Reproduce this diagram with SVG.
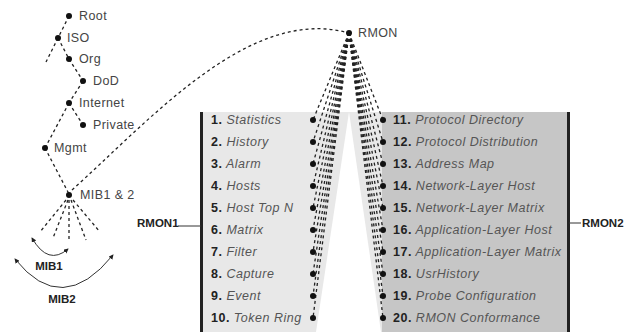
<svg xmlns="http://www.w3.org/2000/svg" width="629" height="332" viewBox="0 0 629 332">
<defs>
<style>
.t{font-family:"Liberation Sans",Arial,sans-serif;font-size:12.5px;fill:#444;letter-spacing:0.4px}
.b{font-family:"Liberation Sans",Arial,sans-serif;font-size:11.5px;font-weight:bold;fill:#222}
.it{font-family:"Liberation Sans",Arial,sans-serif;font-size:12.5px;font-style:italic;fill:#555;letter-spacing:0.5px}
.n{font-weight:bold;font-style:normal;fill:#222}
.d{fill:none;stroke:#222;stroke-width:1.3;stroke-dasharray:3 3}
.s{fill:none;stroke:#333;stroke-width:1}
.dot{fill:#111}
</style>
<marker id="ah" viewBox="0 0 6 6" refX="5" refY="3" markerWidth="5" markerHeight="5" orient="auto-start-reverse">
<path d="M0,0 L6,3 L0,6 Z" fill="#222"/>
</marker>
</defs>
<rect width="629" height="332" fill="#fff"/>
<g id="boxes">
<rect x="202" y="112" width="180" height="220" fill="#e8e8e8"/>
<rect x="382" y="112" width="186" height="220" fill="#c6c6c6"/>
<polygon points="349,112 316,332 381,332" fill="#fff"/>
<rect x="200" y="112" width="3" height="220" fill="#222"/>
<rect x="567" y="112" width="3" height="220" fill="#222"/>
</g>
<g id="connectors">
<path class="d" d="M69,16 L58,38"/>
<path class="d" d="M58,38 L69,59"/>
<path class="d" d="M58,38 L46,62"/>
<path class="d" d="M69,59 L83,81"/>
<path class="d" d="M83,81 L69,103"/>
<path class="d" d="M69,103 L83,125"/>
<path class="d" d="M69,103 L45,148"/>
<path class="d" d="M45,148 L69,194"/>
<path class="d" d="M72,190 C150,120 250,5 349,33"/>
<path class="d" d="M66,200 L40,232"/>
<path class="d" d="M68,200 L53,238"/>
<path class="d" d="M69,200 L69,240"/>
<path class="d" d="M71,200 L86,240"/>
<path class="d" d="M73,200 L100,232"/>
<path class="s" d="M32,238 Q48,266 68,249" marker-start="url(#ah)" marker-end="url(#ah)"/>
<path class="s" d="M15,259 Q62,318 113,255" marker-start="url(#ah)" marker-end="url(#ah)"/>
<path class="s" d="M178,226 L201,226"/>
<path class="s" d="M569,223 L581,223"/>
<g id="fan">
<path class="d" d="M349,33 L313,120"/>
<path class="d" d="M349,33 L313,142"/>
<path class="d" d="M349,33 L313,164"/>
<path class="d" d="M349,33 L313,186"/>
<path class="d" d="M349,33 L313,208"/>
<path class="d" d="M349,33 L313,230"/>
<path class="d" d="M349,33 L313,252"/>
<path class="d" d="M349,33 L313,274"/>
<path class="d" d="M349,33 L313,296"/>
<path class="d" d="M349,33 L313,318"/>
<path class="d" d="M349,33 L383,120"/>
<path class="d" d="M349,33 L383,142"/>
<path class="d" d="M349,33 L383,164"/>
<path class="d" d="M349,33 L383,186"/>
<path class="d" d="M349,33 L383,208"/>
<path class="d" d="M349,33 L383,230"/>
<path class="d" d="M349,33 L383,252"/>
<path class="d" d="M349,33 L383,274"/>
<path class="d" d="M349,33 L383,296"/>
<path class="d" d="M349,33 L383,318"/>
</g>
</g>
<g id="root"><circle class="dot" cx="69" cy="16" r="3"/><text class="t" x="79" y="20">Root</text></g>
<g id="iso"><circle class="dot" cx="58" cy="38" r="3"/><text class="t" x="67" y="42">ISO</text></g>
<g id="org"><circle class="dot" cx="69" cy="59" r="3"/><text class="t" x="79" y="63">Org</text></g>
<g id="dod"><circle class="dot" cx="83" cy="81" r="3"/><text class="t" x="93" y="85">DoD</text></g>
<g id="internet"><circle class="dot" cx="69" cy="103" r="3"/><text class="t" x="79" y="107">Internet</text></g>
<g id="private"><circle class="dot" cx="83" cy="125" r="3"/><text class="t" x="93" y="129">Private</text></g>
<g id="mgmt"><circle class="dot" cx="45" cy="148" r="3"/><text class="t" x="54" y="152">Mgmt</text></g>
<g id="mib12"><circle class="dot" cx="69" cy="195" r="3"/><text class="t" x="80" y="199">MIB1 &amp; 2</text></g>
<g id="rmon"><circle class="dot" cx="349" cy="33" r="3"/><text class="t" x="358" y="37">RMON</text></g>
<g id="mib1"><text class="b" x="49" y="270" text-anchor="middle">MIB1</text></g>
<g id="mib2"><text class="b" x="62" y="303" text-anchor="middle">MIB2</text></g>
<g id="rmon1"><text class="b" x="137" y="227">RMON1</text></g>
<g id="rmon2"><text class="b" x="582" y="227">RMON2</text></g>
<g id="rmon1-groups">
<g class="dot"><circle cx="313" cy="120" r="3"/><circle cx="313" cy="142" r="3"/><circle cx="313" cy="164" r="3"/><circle cx="313" cy="186" r="3"/><circle cx="313" cy="208" r="3"/><circle cx="313" cy="230" r="3"/><circle cx="313" cy="252" r="3"/><circle cx="313" cy="274" r="3"/><circle cx="313" cy="296" r="3"/><circle cx="313" cy="318" r="3"/></g>
<text class="it" x="211" y="124"><tspan class="n">1.</tspan> Statistics</text>
<text class="it" x="211" y="146"><tspan class="n">2.</tspan> History</text>
<text class="it" x="211" y="168"><tspan class="n">3.</tspan> Alarm</text>
<text class="it" x="211" y="190"><tspan class="n">4.</tspan> Hosts</text>
<text class="it" x="211" y="212"><tspan class="n">5.</tspan> Host Top N</text>
<text class="it" x="211" y="234"><tspan class="n">6.</tspan> Matrix</text>
<text class="it" x="211" y="256"><tspan class="n">7.</tspan> Filter</text>
<text class="it" x="211" y="278"><tspan class="n">8.</tspan> Capture</text>
<text class="it" x="211" y="300"><tspan class="n">9.</tspan> Event</text>
<text class="it" x="211" y="322"><tspan class="n">10.</tspan> Token Ring</text>
</g>
<g id="rmon2-groups">
<g class="dot"><circle cx="383" cy="120" r="3"/><circle cx="383" cy="142" r="3"/><circle cx="383" cy="164" r="3"/><circle cx="383" cy="186" r="3"/><circle cx="383" cy="208" r="3"/><circle cx="383" cy="230" r="3"/><circle cx="383" cy="252" r="3"/><circle cx="383" cy="274" r="3"/><circle cx="383" cy="296" r="3"/><circle cx="383" cy="318" r="3"/></g>
<text class="it" x="393" y="124"><tspan class="n">11.</tspan> Protocol Directory</text>
<text class="it" x="393" y="146"><tspan class="n">12.</tspan> Protocol Distribution</text>
<text class="it" x="393" y="168"><tspan class="n">13.</tspan> Address Map</text>
<text class="it" x="393" y="190"><tspan class="n">14.</tspan> Network-Layer Host</text>
<text class="it" x="393" y="212"><tspan class="n">15.</tspan> Network-Layer Matrix</text>
<text class="it" x="393" y="234"><tspan class="n">16.</tspan> Application-Layer Host</text>
<text class="it" x="393" y="256"><tspan class="n">17.</tspan> Application-Layer Matrix</text>
<text class="it" x="393" y="278"><tspan class="n">18.</tspan> UsrHistory</text>
<text class="it" x="393" y="300"><tspan class="n">19.</tspan> Probe Configuration</text>
<text class="it" x="393" y="322"><tspan class="n">20.</tspan> RMON Conformance</text>
</g>
</svg>
